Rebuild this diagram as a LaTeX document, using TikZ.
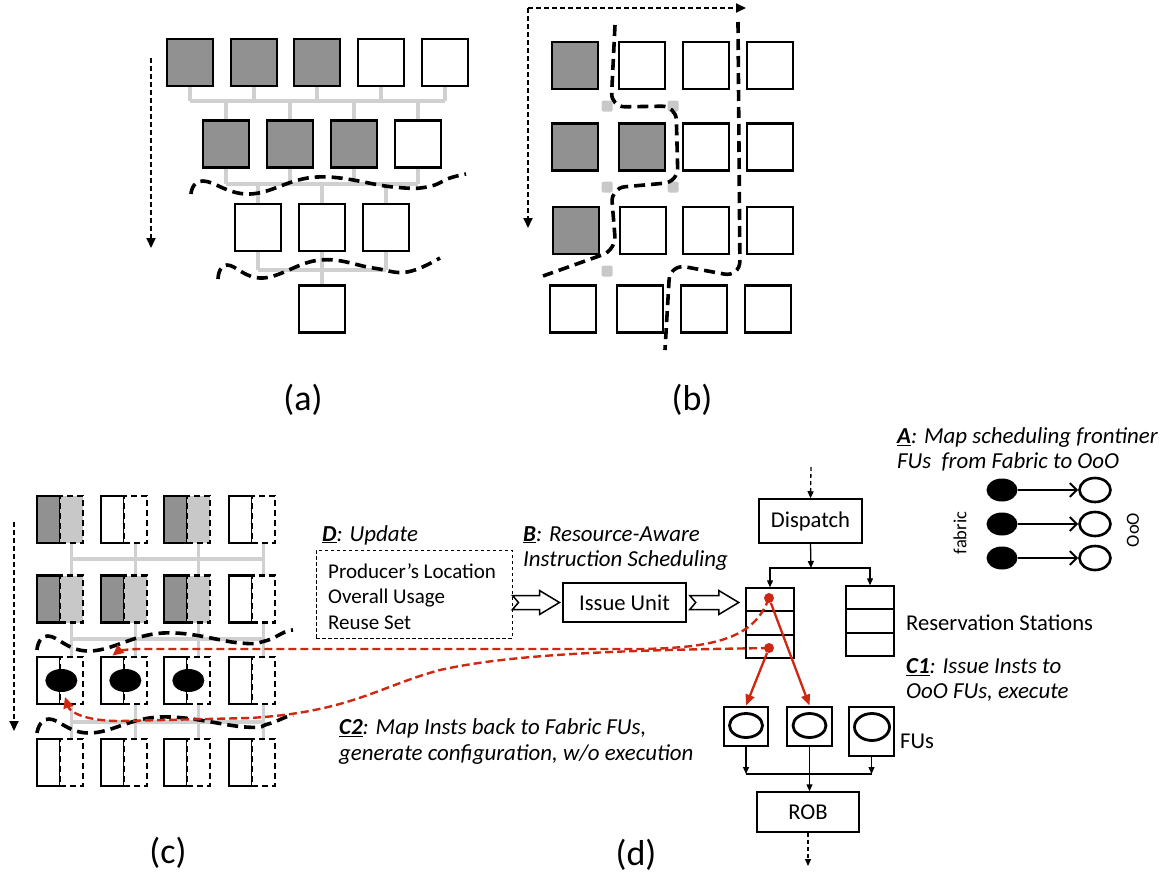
\documentclass[tikz,border=0pt]{standalone}
\usepackage{fontspec}
\setmainfont{Carlito}
\usetikzlibrary{arrows.meta,calc,shapes.geometric}
\definecolor{dk}{RGB}{145,145,145}
\definecolor{lt}{RGB}{200,200,200}
\definecolor{wire}{RGB}{208,208,208}
\definecolor{rd}{RGB}{206,40,18}
\pgfdeclarelayer{bg}
\pgfsetlayers{bg,main}
\tikzset{
  sq/.style={draw, line width=2.7pt, minimum width=46pt, minimum height=47pt, inner sep=0pt, fill=white},
  halfs/.style={draw, line width=2.7pt, minimum width=23pt, minimum height=47pt, inner sep=0pt},
  halfd/.style={halfs, dash pattern=on 6pt off 4pt},
  wirel/.style={draw=wire, line width=3.2pt},
  wave/.style={line width=3.6pt, dash pattern=on 11pt off 6pt},
  flow/.style={line width=2pt, dash pattern=on 5pt off 3pt, -{Triangle[length=10pt,width=9pt]}},
  gm/.style={fill=lt, minimum size=11pt, inner sep=0pt, rounded corners=1.5pt},
  box/.style={draw, line width=1.5pt, inner sep=0pt},
  lbl/.style={font=\fontsize{22.6}{26}\selectfont},
  ital/.style={font=\fontsize{22.9}{25.5}\selectfont\itshape, align=left, anchor=west, inner sep=0pt},
  capt/.style={font=\fontsize{36}{40}\selectfont},
  rdash/.style={color=rd, line width=2.4pt, dash pattern=on 8pt off 4pt, -{Triangle[length=11pt,width=10pt]}},
  rsolid/.style={color=rd, line width=2.3pt, -{Triangle[length=11pt,width=9pt]}},
  reddot/.style={circle, fill=rd, inner sep=0pt, minimum size=10pt},
  tarrow/.style={line width=1.3pt, -{Triangle[length=7pt,width=6pt]}},
  dflow/.style={line width=1.3pt, dash pattern=on 4pt off 3pt, -{Triangle[length=7pt,width=6pt]}},
  blob/.style={ellipse, fill=black, minimum width=32pt, minimum height=23pt, inner sep=0pt},
  oval/.style={ellipse, draw, line width=2.8pt, minimum width=33pt, minimum height=24pt, inner sep=0pt},
  fu/.style={draw, line width=2.8pt, inner sep=0pt, fill=white},
  hollowoval/.style={ellipse, draw, line width=2.6pt, minimum width=31pt, minimum height=24pt, inner sep=0pt},
  fullblob/.style={ellipse, fill=black, minimum width=31pt, minimum height=23pt, inner sep=0pt},
  barb/.style={line width=1.5pt, -{Straight Barb[length=7pt,width=14pt,line width=2pt]}}
}
\begin{document}
\begin{tikzpicture}[x=1pt,y=-1pt]
\useasboundingbox (0,0) rectangle (1171,873);

% ---------------- (a) ----------------
\foreach \n/\x/\f in {1/190/dk,2/254/dk,3/317/dk,4/381/white,5/445/white}
  \node[sq, fill=\f] (a1\n) at (\x,62.5) {};
\foreach \n/\x/\f in {1/226/dk,2/290/dk,3/354/dk,4/418/white}
  \node[sq, fill=\f] (a2\n) at (\x,144) {};
\foreach \n/\x in {1/258,2/322,3/386}
  \node[sq] (a3\n) at (\x,227.5) {};
\node[sq] (a41) at (322,309) {};
\coordinate (ab1) at (0,101);
\coordinate (ab2) at (0,184);
\coordinate (ab3) at (0,270);
\begin{pgfonlayer}{bg}
  \foreach \n in {1,...,5} \draw[wirel] (a1\n.center) -- (a1\n.center |- ab1);
  \draw[wirel] (a11.center |- ab1) -- (a15.center |- ab1);
  \foreach \n in {1,...,4} \draw[wirel] (a2\n.center) -- (a2\n.center |- ab1);
  \foreach \n in {1,...,4} \draw[wirel] (a2\n.center) -- (a2\n.center |- ab2);
  \draw[wirel] (a21.center |- ab2) -- (a24.center |- ab2);
  \foreach \n in {1,2,3} \draw[wirel] (a3\n.center) -- (a3\n.center |- ab2);
  \foreach \n in {1,2,3} \draw[wirel] (a3\n.center) -- (a3\n.center |- ab3);
  \draw[wirel] (a31.center |- ab3) -- (a33.center |- ab3);
  \draw[wirel] (a41.center) -- (a41.center |- ab3);
\end{pgfonlayer}
\draw[wave] plot[smooth, tension=0.7] coordinates {(191,194) (203,181) (250,194) (317,177) (393,187) (427,187) (450,178) (466,174)};
\draw[wave] plot[smooth, tension=0.7] coordinates {(218,279) (227,265) (263,278) (320,260) (373,268) (407,272) (440,258)};
\coordinate (aft) at (151,58);
\coordinate (afb) at (151,248);
\draw[flow] (aft) -- (afb);
\node[capt] (la) at (303,400) {(a)};

% ---------------- (b) ----------------
\foreach \r/\c/\x/\y/\f in {1/1/575/65.5/dk,1/2/642/65.5/white,1/3/706/65.5/white,1/4/770/65.5/white,
  2/1/575/147/dk,2/2/642/147/dk,2/3/706/147/white,2/4/770/147/white,
  3/1/576/230.5/dk,3/2/643/230.5/white,3/3/706/230.5/white,3/4/770/230.5/white,
  4/1/573/309/white,4/2/640/309/white,4/3/704/309/white,4/4/768/309/white}
  \node[sq, fill=\f] (b\r\c) at (\x,\y) {};
\node[gm] (g1) at (607,106) {};
\node[gm] (g2) at (673,106) {};
\node[gm] (g3) at (607,187) {};
\node[gm] (g4) at (673,187) {};
\node[gm] (g5) at (607,271) {};
\draw[wave, rounded corners=14pt] (615,25) -- (611,107) -- (676,106) -- (678,182) -- (611,188) -- (616,250) -- (543,276);
\draw[wave, rounded corners=16pt] (738,22) -- (740,277) -- (670,264) -- (665,350);
\coordinate (bc) at (528,8);
\coordinate (bd) at (528,228);
\coordinate (br) at (746,8);
\draw[flow] (bc) -- (bd);
\draw[flow] (bc) -- (br);
\node[capt] (lb) at (692,400) {(b)};

% ---------------- (c) ----------------
\foreach \r/\y in {1/519.5,2/599,3/680.5,4/762.5}
  \foreach \c/\x in {1/37,2/101,3/164,4/229}
  { \node[halfs, fill=white] (c\r\c l) at (\x+11.5,\y) {};
    \node[halfd, fill=white] (c\r\c r) at (\x+34.5,\y) {}; }
\foreach \r/\c in {1/1,1/3,2/1,2/2,2/3}
  { \node[halfs, fill=dk] at (c\r\c l) {};
    \node[halfd, fill=lt] at (c\r\c r) {}; }
\foreach \c in {1,2,3} \node[blob] (e\c) at (c3\c l.east) {};
\coordinate (cb1) at (0,559);
\coordinate (cb2) at (0,639);
\coordinate (cb3) at (0,722);
\begin{pgfonlayer}{bg}
  \foreach \c in {1,...,4} {
    \draw[wirel] (c1\c r.center) -- (c2\c r.center);
    \draw[wirel] (c2\c r.center) -- (c3\c r.center);
    \draw[wirel] (c3\c r.center) -- (c4\c r.center); }
  \draw[wirel] (c11r.center |- cb1) -- (c14r.center |- cb1);
  \draw[wirel] (c11r.center |- cb2) -- (c14r.center |- cb2);
  \draw[wirel] (c11r.center |- cb3) -- (c14r.center |- cb3);
\end{pgfonlayer}
\draw[wave] plot[smooth, tension=0.7] coordinates {(37,650) (48,636) (90,651) (163,633) (240,643) (265,641) (285,632) (293,630)};
\draw[wave] plot[smooth, tension=0.7] coordinates {(37,733) (49,719) (90,733) (160,717) (245,727) (268,724) (286,717) (293,715)};
\coordinate (cft) at (14,522);
\coordinate (cfb) at (14,731);
\draw[flow] (cft) -- (cfb);
\node[capt] (lc) at (168,853) {(c)};

% ---------------- (d) ----------------
\node[box, lbl, minimum width=103pt, minimum height=44pt] (disp) at (810.5,521) {Dispatch};
\node[box, minimum width=48pt, minimum height=70pt] (rsL) at (770,623) {};
\node[box, minimum width=48pt, minimum height=70pt] (rsR) at (870,621) {};
\foreach \b in {rsL,rsR} {
  \draw[line width=1.5pt] ($(\b.north west)!1/3!(\b.south west)$) -- ($(\b.north east)!1/3!(\b.south east)$);
  \draw[line width=1.5pt] ($(\b.north west)!2/3!(\b.south west)$) -- ($(\b.north east)!2/3!(\b.south east)$); }
\coordinate (din) at (811,467);
\draw[dflow] (din) -- (disp.north);
\coordinate (jn) at (811,568);
\draw[tarrow] (disp.south) -- (jn);
\draw[tarrow] (jn) -| (rsL.north);
\draw[tarrow] (jn) -| (rsR.north);

\node[draw, line width=1pt, dash pattern=on 3.5pt off 2.5pt, minimum width=196pt, minimum height=88pt] (dbox) at (414,594) {};
\node[font=\fontsize{21}{25.5}\selectfont, align=left, anchor=west, inner sep=0pt] (dtext) at (328,596.5) {Producer’s Location\\Overall Usage\\Reuse Set};
\node[box, lbl, minimum width=123pt, minimum height=39pt] (iu) at (624.5,602.5) {Issue Unit};
\draw[line width=1.5pt, fill=white] (dbox.east |- iu.west) ++(0,-7) -- ++(27,0) -- ++(0,-5) -- ++(20,12) -- ++(-20,12) -- ++(0,-5) -- ++(-27,0) -- ++(6,-7) -- cycle;
\draw[line width=1.5pt, fill=white] (iu.east) ++(3,-7) -- ++(29,0) -- ++(0,-5) -- ++(20,12) -- ++(-20,12) -- ++(0,-5) -- ++(-29,0) -- ++(6,-7) -- cycle;

\node[fu, minimum width=44pt, minimum height=39pt] (fu1) at (746,726.5) {};
\node[fu, minimum width=45pt, minimum height=39pt] (fu2) at (809.5,726.5) {};
\node[fu, minimum width=45pt, minimum height=49pt] (fu3) at (871.5,731.5) {};
\node[oval] (o1) at (746,725.5) {};
\node[oval] (o2) at (809.5,725.5) {};
\node[oval, minimum width=35pt, minimum height=27pt] (o3) at (872,727) {};

\node[box, lbl, minimum width=102pt, minimum height=40pt] (rob) at (808,812) {ROB};
\coordinate (mg) at (0,774);
\draw[tarrow] (fu1.south) -- (fu1.south |- mg);
\draw[tarrow] (fu3.south) -- (fu3.south |- mg);
\draw[line width=1.3pt] (fu1.south |- mg) -- (fu3.south |- mg);
\draw[tarrow] (fu2.south) -- (fu2.south |- rob.north);
\coordinate (rout) at (808,866);
\draw[dflow] (rob.south) -- (rout);

% red paths
\node[reddot] (d1) at (769,598) {};
\node[reddot] (d2) at (769,648) {};
\draw[rsolid] (d1) -- (fu2.north);
\draw[rsolid] (d2) -- (fu1.north);
\draw[rdash] (d1.center) .. controls (755,636) and (720,648) .. (640,649) -- (140,649) .. controls (124,649) and (117,652) .. (c32l.north);
\coordinate (r2end) at (65,697);
\draw[rdash] (d2.center) .. controls (650,650) and (520,652) .. (440,670) .. controls (380,686) and (350,712) .. (250,718) -- (120,721) .. controls (85,721) and (70,712) .. (r2end);

% A: fabric -> OoO
\foreach \i/\y in {1/490,2/524,3/558} {
  \node[fullblob] (f\i) at (1002,\y) {};
  \node[hollowoval] (h\i) at (1095,\y) {};
  \draw[barb] (f\i.east) -- (h\i.west); }
\node[font=\fontsize{18.5}{20}\selectfont, rotate=90] (tfab) at (960,533) {fabric};
\node[font=\fontsize{18.5}{20}\selectfont, rotate=90] (tooo) at (1133,530) {OoO};

% texts
\node[ital] (tA) at (897,449.5) {\underline{\textbf{A}}: Map scheduling frontiner\\FUs\ \ from Fabric to OoO};
\node[lbl, anchor=west, inner sep=0pt] (trs) at (906,623) {Reservation Stations};
\node[ital] (tC1) at (906,680) {\underline{\textbf{C1}}: Issue Insts to\\OoO FUs, execute};
\node[lbl, anchor=west, inner sep=0pt] (tfu) at (900,741) {FUs};
\node[ital] (tD) at (322,535) {\underline{\textbf{D}}: Update};
\node[ital] (tB) at (523,548.5) {\underline{\textbf{B}}: Resource-Aware\\Instruction Scheduling};
\node[ital] (tC2) at (339,741.5) {\underline{\textbf{C2}}: Map Insts back to Fabric FUs,\\generate configuration, w/o execution};
\node[capt] (ld) at (636,855) {(d)};
\end{tikzpicture}
\end{document}
